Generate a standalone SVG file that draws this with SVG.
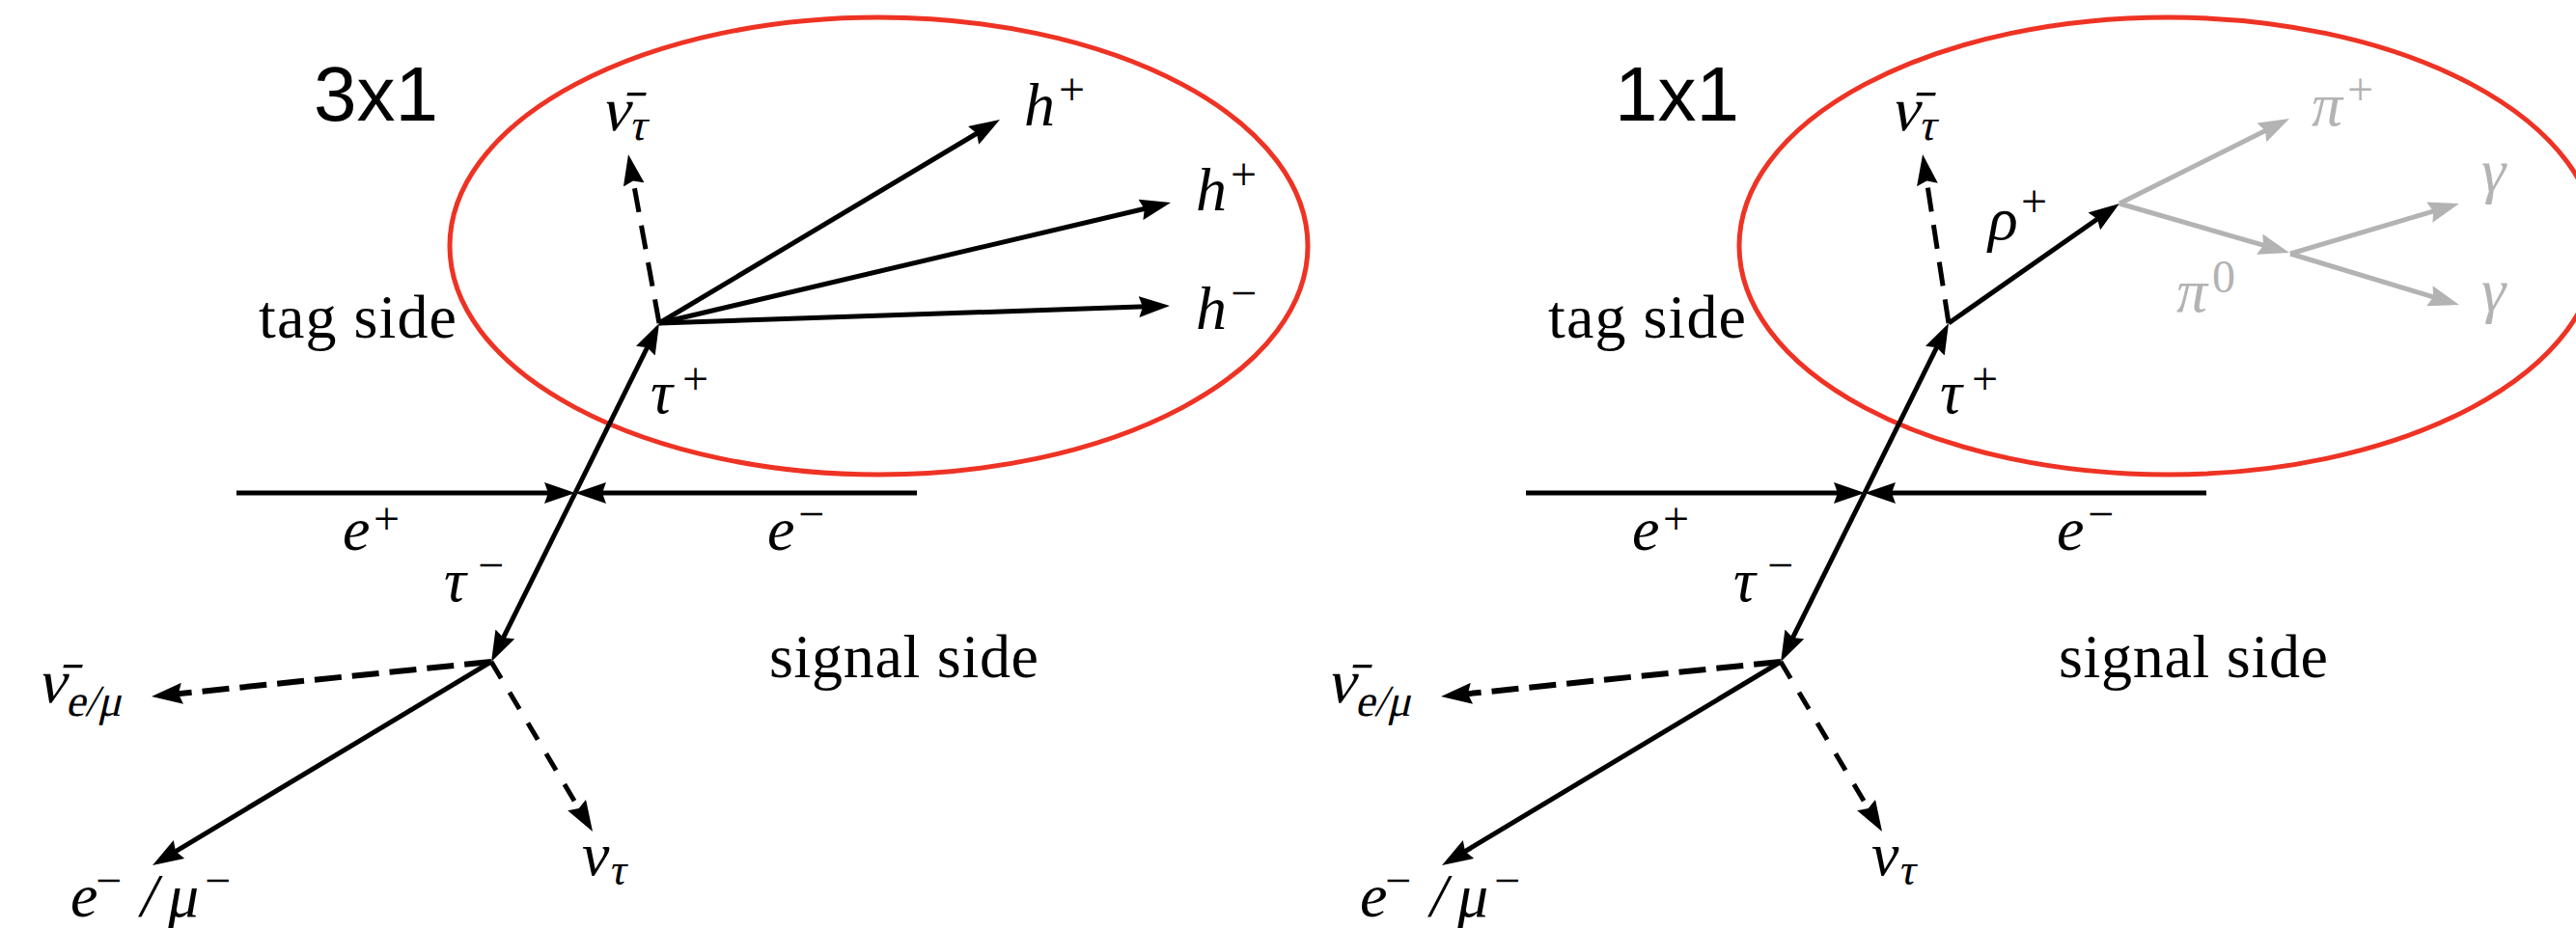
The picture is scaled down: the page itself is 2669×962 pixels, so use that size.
<svg xmlns="http://www.w3.org/2000/svg" width="2669" height="962" viewBox="0 0 2669 962">
<style>
.ttl{font-family:"Liberation Sans",Arial,sans-serif;font-size:80px;fill:#000}
.lbl{font-family:"Liberation Serif","Times New Roman",serif;font-size:64px;fill:#000}
.m{font-family:"Liberation Serif","Times New Roman",serif;font-style:italic;font-size:64px;fill:#000}
.nb{font-family:"Liberation Serif","Times New Roman",serif;font-style:normal;font-size:64px;fill:#000}
.sup{font-style:normal;font-size:48px}
.sub{font-size:46px}
.gt{fill:#b3b3b3}
.ell{fill:none;stroke:#ee3324;stroke-width:5}
.s{fill:none;stroke:#000;stroke-width:5;marker-end:url(#ah)}
.d1{fill:none;stroke:#000;stroke-width:5;stroke-dasharray:25 14;marker-end:url(#ah)}
.d2{fill:none;stroke:#000;stroke-width:6;stroke-dasharray:28 11;marker-end:url(#ah)}
.d3{fill:none;stroke:#000;stroke-width:5;stroke-dasharray:20 17;marker-end:url(#ah)}
.gs{fill:none;stroke:#b3b3b3;stroke-width:5;marker-end:url(#ahg)}
</style>
<defs>
<marker id="ah" viewBox="0 0 32 22" refX="22" refY="11" markerWidth="32" markerHeight="22" orient="auto" markerUnits="userSpaceOnUse"><path d="M0,0 L32,11 L0,22 L4,11 Z" fill="#000"/></marker>
<marker id="ahg" viewBox="0 0 32 22" refX="22" refY="11" markerWidth="32" markerHeight="22" orient="auto" markerUnits="userSpaceOnUse"><path d="M0,0 L32,11 L0,22 L4,11 Z" fill="#b3b3b3"/></marker>
</defs>
<rect width="2669" height="962" fill="#fff"/>

<!-- LEFT PANEL: 3x1 -->
<g id="panel-3x1">
  <g id="title-3x1"><text class="ttl" x="325" y="125">3x1</text></g>
  <g id="tag-region-3x1"><ellipse class="ell" cx="910.5" cy="255" rx="444.5" ry="237"/></g>
  <g id="connectors-3x1">
    <line class="s" x1="245" y1="511" x2="586" y2="511"/>
    <line class="s" x1="950" y1="511" x2="606" y2="511"/>
    <line class="s" x1="596" y1="511" x2="678.6" y2="344"/>
    <line class="s" x1="596" y1="511" x2="513.5" y2="677.1"/>
    <line class="d1" x1="683" y1="335" x2="652.8" y2="169.8"/>
    <line class="s" x1="683" y1="335" x2="1027.4" y2="129.1"/>
    <line class="s" x1="683" y1="335" x2="1203.3" y2="212.3"/>
    <line class="s" x1="683" y1="335" x2="1202" y2="317.3"/>
    <line class="d2" x1="509" y1="686" x2="167" y2="721"/>
    <line class="d3" x1="509" y1="686" x2="608.9" y2="853.4"/>
    <line class="s" x1="509" y1="686" x2="166.6" y2="891.8"/>
  </g>
  <g id="label-tag-side-3x1"><text class="lbl" x="268" y="350" textLength="205">tag side</text></g>
  <g id="label-signal-side-3x1"><text class="lbl" x="797" y="702" textLength="279">signal side</text></g>
  <g id="label-nubar-tau-3x1"><text class="nb" transform="translate(622,135) skewX(-13)">ν̄<tspan class="sub" x="31" y="10">τ</tspan></text></g>
  <g id="label-h1-3x1"><text class="m" x="1061" y="130">h<tspan class="sup" x="1097" y="109">+</tspan></text></g>
  <g id="label-h2-3x1"><text class="m" x="1239" y="218">h<tspan class="sup" x="1275" y="197">+</tspan></text></g>
  <g id="label-h3-3x1"><text class="m" x="1239" y="341">h<tspan class="sup" x="1275" y="320">−</tspan></text></g>
  <g id="label-tauplus-3x1"><text class="m" x="674" y="428">τ<tspan class="sup" x="707" y="409">+</tspan></text></g>
  <g id="label-eplus-3x1"><text class="m" x="355" y="570">e<tspan class="sup" x="387" y="554">+</tspan></text></g>
  <g id="label-eminus-3x1"><text class="m" x="795" y="570">e<tspan class="sup" x="827" y="549">−</tspan></text></g>
  <g id="label-tauminus-3x1"><text class="m" x="460" y="623">τ<tspan class="sup" x="495" y="602">−</tspan></text></g>
  <g id="label-nubar-emu-3x1"><text class="nb" transform="translate(38,728) skewX(-13)">ν̄<tspan class="sub" x="33" y="14">e/μ</tspan></text></g>
  <g id="label-emu-3x1"><text class="m" x="73" y="950">e<tspan class="sup" x="99" y="929">−</tspan><tspan x="146" y="950">/</tspan><tspan x="174" y="950">μ</tspan><tspan class="sup" x="212" y="929">−</tspan></text></g>
  <g id="label-nutau-3x1"><text class="m" x="603" y="907">ν<tspan class="sub" x="633" y="917">τ</tspan></text></g>
</g>

<!-- RIGHT PANEL: 1x1 -->
<g id="panel-1x1" transform="translate(1336,0)">
  <g id="title-1x1"><text class="ttl" x="337" y="125">1x1</text></g>
  <g id="tag-region-1x1"><ellipse class="ell" cx="910.5" cy="255" rx="444.5" ry="237"/></g>
  <g id="connectors-1x1">
    <line class="s" x1="245" y1="511" x2="586" y2="511"/>
    <line class="s" x1="950" y1="511" x2="606" y2="511"/>
    <line class="s" x1="596" y1="511" x2="678.6" y2="344"/>
    <line class="s" x1="596" y1="511" x2="513.5" y2="677.1"/>
    <line class="d1" x1="683" y1="335" x2="657.6" y2="169.8"/>
    <line class="s" x1="683" y1="335" x2="851.8" y2="216.7"/>
    <line class="gs" x1="860" y1="211" x2="1027.1" y2="127.5"/>
    <line class="gs" x1="860" y1="211" x2="1026.4" y2="259.2"/>
    <line class="gs" x1="1037" y1="263" x2="1202.4" y2="213.9"/>
    <line class="gs" x1="1037" y1="263" x2="1202.4" y2="313.1"/>
    <line class="d2" x1="509" y1="686" x2="167" y2="721"/>
    <line class="d3" x1="509" y1="686" x2="608.9" y2="853.4"/>
    <line class="s" x1="509" y1="686" x2="166.6" y2="891.8"/>
  </g>
  <g id="label-tag-side-1x1"><text class="lbl" x="268" y="350" textLength="205">tag side</text></g>
  <g id="label-signal-side-1x1"><text class="lbl" x="797" y="702" textLength="279">signal side</text></g>
  <g id="label-nubar-tau-1x1"><text class="nb" transform="translate(622,135) skewX(-13)">ν̄<tspan class="sub" x="31" y="10">τ</tspan></text></g>
  <g id="label-rho-1x1"><text class="m" x="724" y="248">ρ<tspan class="sup" x="758" y="225">+</tspan></text></g>
  <g id="label-piplus-1x1"><text class="m gt" x="1059" y="130">π<tspan class="sup" x="1096" y="109">+</tspan></text></g>
  <g id="label-pizero-1x1"><text class="m gt" x="919" y="323">π<tspan class="sup" x="956" y="303">0</tspan></text></g>
  <g id="label-gamma1-1x1"><text class="m gt" x="1235" y="198">γ</text></g>
  <g id="label-gamma2-1x1"><text class="m gt" x="1235" y="322">γ</text></g>
  <g id="label-tauplus-1x1"><text class="m" x="674" y="428">τ<tspan class="sup" x="707" y="409">+</tspan></text></g>
  <g id="label-eplus-1x1"><text class="m" x="355" y="570">e<tspan class="sup" x="387" y="554">+</tspan></text></g>
  <g id="label-eminus-1x1"><text class="m" x="795" y="570">e<tspan class="sup" x="827" y="549">−</tspan></text></g>
  <g id="label-tauminus-1x1"><text class="m" x="460" y="623">τ<tspan class="sup" x="495" y="602">−</tspan></text></g>
  <g id="label-nubar-emu-1x1"><text class="nb" transform="translate(38,728) skewX(-13)">ν̄<tspan class="sub" x="33" y="14">e/μ</tspan></text></g>
  <g id="label-emu-1x1"><text class="m" x="73" y="950">e<tspan class="sup" x="99" y="929">−</tspan><tspan x="146" y="950">/</tspan><tspan x="174" y="950">μ</tspan><tspan class="sup" x="212" y="929">−</tspan></text></g>
  <g id="label-nutau-1x1"><text class="m" x="603" y="907">ν<tspan class="sub" x="633" y="917">τ</tspan></text></g>
</g>
</svg>
